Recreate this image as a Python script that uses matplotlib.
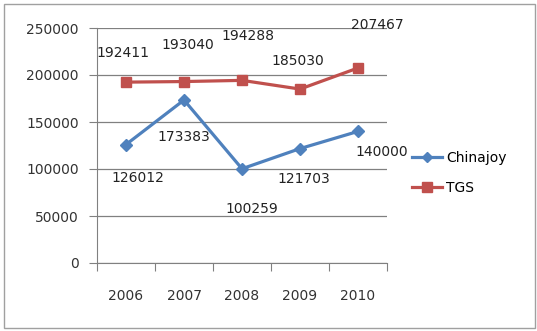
import matplotlib
matplotlib.use("Agg")
import matplotlib.pyplot as plt
from matplotlib.patches import Rectangle
from matplotlib.lines import Line2D

years = ["2006", "2007", "2008", "2009", "2010"]
chinajoy = [126012, 173383, 100259, 121703, 140000]
tgs = [192411, 193040, 194288, 185030, 207467]
yticks = [0, 50000, 100000, 150000, 200000, 250000]

blue = "#4F81BD"
red = "#C0504D"

fig = plt.figure(figsize=(5.37, 3.31), dpi=100)
fig.patches.append(Rectangle((4/537, 1-328/331), 531/537, 324/331, transform=fig.transFigure,
                             fill=False, edgecolor="#A0A0A0", linewidth=1.0))
ax = fig.add_axes([97/537, 1-263/331, 290/537, 235/331])

x = list(range(len(years)))
ax.plot(x, chinajoy, color=blue, linewidth=2.3, marker="D", markersize=6.5, label="Chinajoy")
ax.plot(x, tgs, color=red, linewidth=2.3, marker="s", markersize=7.5, label="TGS")

ax.set_xlim(-0.5, len(years) - 0.5)
ax.set_ylim(0, 250000)
ax.set_yticks(yticks)
ax.set_yticklabels([str(v) for v in yticks])
ax.set_xticks([i - 0.5 for i in range(len(years) + 1)])
ax.set_xticklabels([])
ax.set_xticks(x, minor=True)
ax.set_xticklabels(years, minor=True)
ax.tick_params(axis="x", which="minor", length=0, pad=19, labelsize=10, labelcolor="#333333")
ax.tick_params(axis="x", which="major", length=6, direction="out", color="#808080")
ax.tick_params(axis="y", length=6, direction="out", color="#808080", pad=7, labelsize=10, labelcolor="#333333")
ax.grid(axis="y", color="#808080", linewidth=0.9)
ax.set_axisbelow(True)
for s in ["top", "right"]:
    ax.spines[s].set_visible(False)
for s in ["left", "bottom"]:
    ax.spines[s].set_color("#808080")

cj_off = [(12, -33), (0, -37), (10, -40), (4, -30), (24, -21)]
tg_off = [(-3, 29), (4, 37), (6, 44), (-2, 28), (19, 43)]
for i, v in enumerate(chinajoy):
    ax.annotate(str(v), (x[i], v), xytext=cj_off[i], textcoords="offset pixels",
                ha="center", va="center", fontsize=10, color="#222222", annotation_clip=False)
for i, v in enumerate(tgs):
    ax.annotate(str(v), (x[i], v), xytext=tg_off[i], textcoords="offset pixels",
                ha="center", va="center", fontsize=10, color="#222222", annotation_clip=False)

handles = [Line2D([], [], color=blue, linewidth=2.3, marker="D", markersize=5),
           Line2D([], [], color=red, linewidth=2.3, marker="s", markersize=7)]
fig.legend(handles, ["Chinajoy", "TGS"], loc="upper left", bbox_to_anchor=(399/537, 1-138/331),
           frameon=False, fontsize=10, handlelength=2.2, handletextpad=0.3, labelspacing=1.2)

fig.savefig("out.png", dpi=100)
